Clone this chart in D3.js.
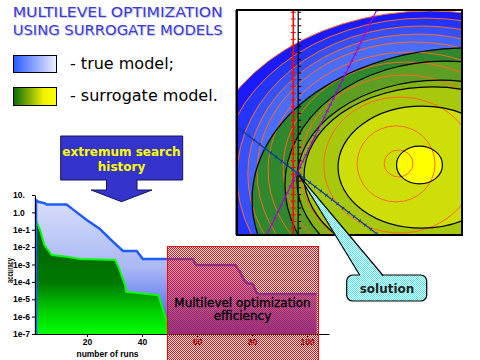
<!DOCTYPE html>
<html>
<head>
<meta charset="utf-8">
<script src="https://cdn.jsdelivr.net/npm/d3@7"></script>
<style>
  html, body { margin: 0; padding: 0; background: #fff; }
  svg { display: block; }
</style>
</head>
<body>
<div id="chart"></div>
<script>
// ---- accuracy history (number of runs vs accuracy) ----
const trueRuns = [1.45, 2.3, 4.7, 5.3, 12.6, 14.4, 19.9, 24.7, 29.5, 33.1, 38.1, 40.3, 58.5, 59.6, 73.8, 74.7, 75.6, 77.5, 78.3, 80.3, 81.7, 82.7, 103.5];
const trueAcc = [5.2, 4.1, 3.3, 2.8, 2.8, 1.7, 0.36, 0.11, 0.02, 0.006, 0.006, 0.0021, 0.0021, 9.3e-4, 9.3e-4, 6e-4, 3.9e-4, 1.0e-4, 8.4e-5, 7.6e-5, 2.4e-5, 2.0e-5, 2.0e-5];
const surrRuns = [1.64, 2.9, 4.5, 7.2, 12.6, 17.5, 30.2, 31.4, 33.8, 34.2, 39.3, 45.9, 47.7, 49, 49.5];
const surrAcc = [0.29, 0.1, 0.013, 0.0035, 0.0028, 0.0021, 0.0018, 7.4e-4, 6.6e-5, 2.7e-5, 2.2e-5, 1.7e-5, 2.4e-6, 5.1e-7, 1e-7];
const yTicks = [10, 1, 1e-1, 1e-2, 1e-3, 1e-4, 1e-5, 1e-6, 1e-7];
const yTickLabels = ["10.", "1.0", "1e-1", "1e-2", "1e-3", "1e-4", "1e-5", "1e-6", "1e-7"];
const xTicks = [20, 40, 60, 80, 100];

// ---- contour map (plot units 0..100 on both axes) ----
// true model contours, outermost first
const trueCx = [85.8, 84.0, 82.2, 80.4, 78.7, 76.9, 75.6, 74.2, 72.4, 70.7, 71.8];
const trueCy = [24.0, 25.3, 26.2, 27.1, 28.0, 28.9, 29.8, 30.2, 31.1, 31.6, 31.8];
const trueRx = [101.3, 91.1, 82.2, 75.6, 69.8, 63.1, 55.1, 46.2, 33.8, 17.3, 6.4];
const trueRy = [75.6, 71.1, 66.7, 62.2, 57.8, 52.4, 47.1, 40.9, 30.2, 16.9, 6.0];
// surrogate model contours, outermost first
const surrCx = [103.6, 92.4, 90.2, 86.7, 82.2, 81.1];
const surrCy = [15.6, 22.2, 24.4, 26.2, 30.2, 31.1];
const surrRx = [96.9, 71.1, 63.6, 56.9, 37.3, 10.2];
const surrRy = [67.6, 55.1, 44.4, 39.6, 27.1, 8.4];
// search path
const solution = [26.9, 27.8];
const redLineX = 25.0;
const blackLineX = 27.2;
const purplePath = [[62.1, 100], [13.2, 0]];
const navyPath = [[0, 48.0], [62.8, 0]];

const trueData = trueRuns.map((r, i) => ({ run: r, acc: trueAcc[i] }));
const surrData = surrRuns.map((r, i) => ({ run: r, acc: surrAcc[i] }));
const trueRings = trueCx.map((c, i) => ({ cx: c, cy: trueCy[i], rx: trueRx[i], ry: trueRy[i] }));
const surrRings = surrCx.map((c, i) => ({ cx: c, cy: surrCy[i], rx: surrRx[i], ry: surrRy[i] }));

const blueFills = ["#1a1aff", "#2434ff", "#3650ff", "#4464ff", "#4a6cff", "#4a6cff", "#4a6cff", "#4a6cff", "#4a6cff", "#4a6cff", "#4a6cff"];
const greenFills = ["#2e882e", "#5e9e22", "#86b416", "#a8c80e", "#cede08", "#ffff00"];
const orange = "#ff6a1a";

const W = 480, H = 360;
const svg = d3.select("#chart").append("svg")
  .attr("width", W).attr("height", H)
  .attr("viewBox", `0 0 ${W} ${H}`)
  .style("font-family", "'DejaVu Sans', Verdana, sans-serif");
const defs = svg.append("defs");

function gradient(id, stops, vertical, user) {
  const g = defs.append("linearGradient").attr("id", id)
    .attr("x1", 0).attr("y1", 0)
    .attr("x2", vertical ? 0 : 1).attr("y2", vertical ? 1 : 0);
  if (user) {
    g.attr("gradientUnits", "userSpaceOnUse")
      .attr("x1", user[0]).attr("y1", user[1]).attr("x2", user[2]).attr("y2", user[3]);
  }
  stops.forEach(([o, c]) => g.append("stop").attr("offset", o).attr("stop-color", c));
}

function checker(id, color, base) {
  const p = defs.append("pattern").attr("id", id)
    .attr("width", 2).attr("height", 2).attr("patternUnits", "userSpaceOnUse");
  if (base) p.append("rect").attr("width", 2).attr("height", 2).attr("fill", base);
  p.append("rect").attr("width", 1).attr("height", 1).attr("fill", color);
  p.append("rect").attr("x", 1).attr("y", 1).attr("width", 1).attr("height", 1).attr("fill", color);
}

gradient("legBlue", [[0, "#2a5cff"], [1, "#eef0ff"]], false);
gradient("legGreen", [[0, "#0a6a0a"], [0.7, "#f0f000"], [1, "#ffff00"]], false);
checker("redCheck", "#ff0000");
checker("cyanCheck", "#40f0f0", "#ffffff");

// ---- title ----
const titleLines = ["MULTILEVEL OPTIMIZATION", "USING SURROGATE MODELS"];
titleLines.forEach((t, i) => {
  [["#c8c8f4", 1], ["#3c3ccc", 0]].forEach(([c, off]) => {
    svg.append("text")
      .attr("x", 12.7 + off).attr("y", 17.3 + i * 17.7 + off)
      .attr("font-size", 14)
      .attr("textLength", 210).attr("lengthAdjust", "spacingAndGlyphs")
      .attr("fill", c)
      .text(t);
  });
});

// ---- legend ----
const legend = [
  { fill: "url(#legBlue)", label: "- true model;", y: 55, h: 17, base: 69 },
  { fill: "url(#legGreen)", label: "- surrogate model.", y: 87, h: 18, base: 100.5 }
];
legend.forEach(d => {
  svg.append("rect").attr("x", 13.5).attr("y", d.y + 0.5).attr("width", 43).attr("height", d.h)
    .attr("fill", d.fill).attr("stroke", "#000").attr("stroke-width", 1);
  svg.append("text").attr("x", 70).attr("y", d.base).attr("font-size", 16).attr("fill", "#000").text(d.label);
});

// ---- "extremum search history" arrow ----
const ax0 = 60.7, ax1 = 182.7, ay0 = 136, ay1 = 180, acx = 121.5;
const arrowPath = d3.path();
arrowPath.moveTo(ax0, ay0); arrowPath.lineTo(ax1, ay0); arrowPath.lineTo(ax1, ay1);
arrowPath.lineTo(137, ay1); arrowPath.lineTo(137, 190); arrowPath.lineTo(152, 190);
arrowPath.lineTo(acx, 201.7); arrowPath.lineTo(91, 190); arrowPath.lineTo(106.5, 190);
arrowPath.lineTo(106.5, ay1); arrowPath.lineTo(ax0, ay1); arrowPath.closePath();
svg.append("path").attr("d", arrowPath.toString())
  .attr("fill", "#3434cc").attr("stroke", "#14145a").attr("stroke-width", 1);
svg.append("text").attr("x", acx).attr("y", 155.5).attr("text-anchor", "middle")
  .attr("font-size", 12).attr("font-weight", "bold").attr("fill", "#ffff00").text("extremum search");
svg.append("text").attr("x", acx).attr("y", 171).attr("text-anchor", "middle")
  .attr("font-size", 12).attr("font-weight", "bold").attr("fill", "#ffff00").text("history");

// ---- accuracy chart ----
const x = d3.scaleLinear().domain([1, 108]).range([34.75, 329]);
const y = d3.scaleLog().domain([1e-7, 10]).range([334, 195]);
gradient("blueArea", [[0, "#d8defa"], [0.5, "#aab8f4"], [1, "#3656f0"]], true, [0, y(5.2), 0, y(1e-7)]);
gradient("greenArea", [[0, "#005c00"], [0.55, "#007a00"], [0.8, "#00d000"], [1, "#00ff00"]], true, [0, y(0.29), 0, y(1e-7)]);

const area = d3.area().x(d => x(d.run)).y0(y(1e-7)).y1(d => y(d.acc));
const line = d3.line().x(d => x(d.run)).y(d => y(d.acc));

svg.append("path").datum(trueData).attr("d", area).attr("fill", "url(#blueArea)");
svg.append("path").datum(surrData).attr("d", area).attr("fill", "url(#greenArea)");
svg.append("path").datum(surrData.slice(0, -1)).attr("d", line)
  .attr("fill", "none").attr("stroke", "#00ff00").attr("stroke-width", 2);
svg.append("path").datum([{ run: trueRuns[0], acc: 1e-7 }, ...trueData]).attr("d", line)
  .attr("fill", "none").attr("stroke", "#1e5cff").attr("stroke-width", 2.5);

const yAxis = svg.append("g").attr("transform", "translate(35,0)")
  .call(d3.axisLeft(y).tickValues(yTicks).tickSize(3).tickSizeOuter(0)
    .tickFormat((d, i) => yTickLabels[i]));
yAxis.selectAll("text").attr("x", -22).attr("text-anchor", "start")
  .attr("font-family", "'Liberation Sans', Arial, sans-serif").attr("font-weight", "bold")
  .attr("font-size", 8.5).attr("fill", "#000");
yAxis.select(".domain").attr("stroke", "#000");

const xAxis = svg.append("g").attr("transform", "translate(0,334)")
  .call(d3.axisBottom(x).tickValues(xTicks).tickSize(3).tickSizeOuter(0).tickPadding(2));
xAxis.selectAll("text")
  .attr("font-family", "'Liberation Sans', Arial, sans-serif").attr("font-weight", "bold")
  .attr("font-size", 8.5).attr("fill", "#000");

svg.append("text").attr("transform", "translate(12.5,270.5) rotate(-90)")
  .attr("text-anchor", "middle").attr("font-family", "'Liberation Sans', Arial, sans-serif")
  .attr("font-weight", "bold").attr("font-size", 8.5)
  .attr("textLength", 25).attr("lengthAdjust", "spacingAndGlyphs").text("accuracy");
svg.append("text").attr("x", 107.5).attr("y", 356.5)
  .attr("text-anchor", "middle").attr("font-family", "'Liberation Sans', Arial, sans-serif")
  .attr("font-weight", "bold").attr("font-size", 8.5)
  .attr("textLength", 62).attr("lengthAdjust", "spacingAndGlyphs").text("number of runs");

// red efficiency box
svg.append("rect").attr("x", 167.5).attr("y", 246.5).attr("width", 151).attr("height", 120)
  .attr("fill", "url(#redCheck)").attr("stroke", "#ff0000").attr("stroke-width", 1)
  .attr("shape-rendering", "crispEdges");
[["Multilevel optimization", 306.5], ["efficiency", 320]].forEach(([t, yy]) => {
  svg.append("text").attr("x", 242.5).attr("y", yy).attr("text-anchor", "middle")
    .attr("font-size", 12).attr("fill", "#000")
    .attr("stroke", "#000").attr("stroke-width", 0.35).text(t);
});

// ---- contour map ----
const px = d3.scaleLinear().domain([0, 100]).range([237, 462]);
const py = d3.scaleLinear().domain([0, 100]).range([235, 10]);
const sx = v => px(v) - px(0);
const sy = v => py(0) - py(v);

defs.append("clipPath").attr("id", "plotClip").append("rect")
  .attr("x", px(0)).attr("y", py(100)).attr("width", sx(100)).attr("height", sy(100));
const map = svg.append("g").attr("clip-path", "url(#plotClip)");
map.append("rect").attr("x", px(0)).attr("y", py(100)).attr("width", sx(100)).attr("height", sy(100)).attr("fill", "#fff");

function rings(cls, data) {
  return map.selectAll("ellipse." + cls).data(data).join("ellipse")
    .attr("class", cls)
    .attr("cx", d => px(d.cx)).attr("cy", d => py(d.cy))
    .attr("rx", d => sx(d.rx)).attr("ry", d => sy(d.ry));
}

rings("trueFill", trueRings.slice(0, 5)).attr("fill", (d, i) => blueFills[i]);
rings("surrFill", surrRings).attr("fill", (d, i) => greenFills[i]);
rings("trueLine", trueRings).attr("fill", "none").attr("stroke", orange).attr("stroke-width", 1);
rings("surrLine", surrRings).attr("fill", "none").attr("stroke", "#000").attr("stroke-width", 1.2);

// search directions
const tickStops = d3.range(0, 101, 3);
map.append("line").attr("x1", px(redLineX)).attr("x2", px(redLineX)).attr("y1", py(0)).attr("y2", py(100))
  .attr("stroke", "#ff0000").attr("stroke-width", 1.5);
map.selectAll("line.redTick").data(tickStops).join("line").attr("class", "redTick")
  .attr("x1", px(redLineX) - 2.5).attr("x2", px(redLineX) + 2.5)
  .attr("y1", d => py(d)).attr("y2", d => py(d)).attr("stroke", "#ff0000").attr("stroke-width", 1);
map.append("line").attr("x1", px(blackLineX)).attr("x2", px(blackLineX)).attr("y1", py(0)).attr("y2", py(100))
  .attr("stroke", "#000").attr("stroke-width", 1.2);
map.selectAll("line.blackTick").data(tickStops).join("line").attr("class", "blackTick")
  .attr("x1", px(blackLineX)).attr("x2", px(blackLineX) + 3)
  .attr("y1", d => py(d)).attr("y2", d => py(d)).attr("stroke", "#000").attr("stroke-width", 1);

const pathLine = d3.line().x(d => px(d[0])).y(d => py(d[1]));
[[purplePath, "#9a10c8"], [navyPath, "#0c3c9c"]].forEach(([p, c]) => {
  map.append("path").attr("d", pathLine(p)).attr("stroke", c).attr("stroke-width", 1.2).attr("fill", "none");
  map.append("path").attr("d", pathLine(p)).attr("stroke", c).attr("stroke-width", 3.5)
    .attr("stroke-dasharray", "1 6").attr("fill", "none");
});

// frame
svg.append("rect").attr("x", px(0)).attr("y", py(100)).attr("width", sx(100)).attr("height", sy(100))
  .attr("fill", "none").attr("stroke", "#000").attr("stroke-width", 2);
svg.append("line").attr("x1", px(0) - 0.5).attr("x2", px(0) - 0.5).attr("y1", py(100)).attr("y2", py(0))
  .attr("stroke", "#000").attr("stroke-width", 2);

// ---- "solution" callout ----
const tipX = px(solution[0]) + 1.5, tipY = py(solution[1]) + 3;
svg.append("rect").attr("x", 346.7).attr("y", 275).attr("width", 80).attr("height", 26).attr("rx", 6)
  .attr("fill", "url(#cyanCheck)").attr("stroke", "#000").attr("stroke-width", 1.2);
svg.append("path").attr("d", `M${tipX},${tipY}L383,277L360,277Z`).attr("fill", "url(#cyanCheck)");
svg.append("path").attr("d", `M360,275.5L${tipX},${tipY}L383,275.5`)
  .attr("fill", "none").attr("stroke", "#000").attr("stroke-width", 1.2);
svg.append("text").attr("x", 387).attr("y", 292.5).attr("text-anchor", "middle")
  .attr("font-size", 12).attr("font-weight", "bold").attr("fill", "#222").text("solution");
</script>
</body>
</html>
